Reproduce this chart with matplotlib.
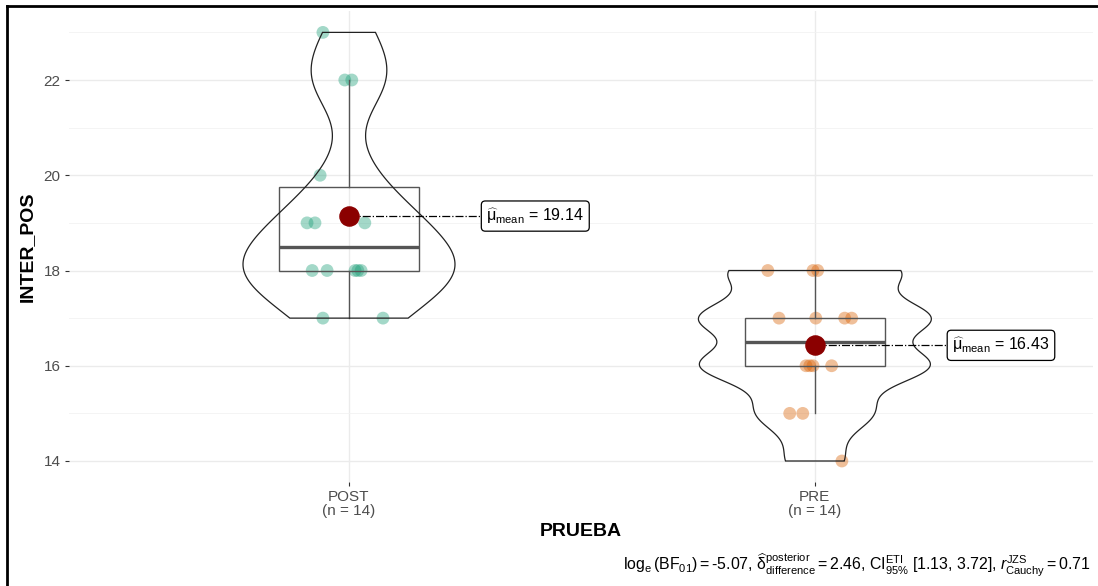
import numpy as np
import matplotlib
matplotlib.use("Agg")
import matplotlib.pyplot as plt
from matplotlib import cbook, mlab
from matplotlib.lines import Line2D

plt.rcParams['font.family'] = ['Liberation Sans', 'DejaVu Sans']
plt.rcParams['mathtext.fontset'] = 'custom'
plt.rcParams['mathtext.rm'] = 'Liberation Sans'
plt.rcParams['mathtext.it'] = 'Liberation Sans:italic'
plt.rcParams['mathtext.bf'] = 'Liberation Sans:bold'

# data (n = 14 per group)
groups = ['POST', 'PRE']
post = [23, 22, 22, 20, 19, 19, 19, 18, 18, 18, 18, 18, 17, 17]
pre = [18, 18, 18, 17, 17, 17, 17, 16, 16, 16, 16, 15, 15, 14]
# horizontal jitter of each point (same order as the values)
post_jitter = [-0.056, -0.009, 0.006, -0.062, -0.090, -0.073, 0.034,
               -0.079, -0.047, 0.013, 0.019, 0.026, -0.056, 0.073]
pre_jitter = [-0.101, -0.004, 0.006, -0.077, 0.002, 0.064, 0.079,
              -0.019, -0.011, -0.004, 0.036, -0.054, -0.026, 0.058]
caption = (r'$\log_{\mathrm{e}}(\mathrm{BF}_{01}) = $-5.07, '
           r'$\widehat{\mathrm{\delta}}_{\mathrm{difference}}^{\mathrm{posterior}} = $2.46, '
           r'$\mathrm{CI}_{95\%}^{\mathrm{ETI}}$ [1.13, 3.72], '
           r'$r_{\mathrm{Cauchy}}^{\mathrm{JZS}} = $0.71')

data = [post, pre]
jitters = [post_jitter, pre_jitter]
colors = ['#1B9E77', '#D95F02']
positions = [1, 2]


def nrd0_kde(x, coords):
    # gaussian kde with R's bw.nrd0 bandwidth, like ggplot's violins
    x = np.asarray(x, float)
    q1, q3 = np.percentile(x, [25, 75])
    sd = x.std(ddof=1)
    bw = 0.9 * min(sd, (q3 - q1) / 1.34) * len(x) ** -0.2
    return mlab.GaussianKDE(x, bw_method=bw / sd).evaluate(coords)


fig = plt.figure(figsize=(10.98, 5.86), dpi=100)
ax = fig.add_axes([69 / 1098, 1 - 482 / 586, (1093 - 69) / 1098, (482 - 11) / 586])

# jittered points
for pos, vals, jit, col in zip(positions, data, jitters, colors):
    ax.scatter(pos + np.array(jit), vals, s=85, color=col, alpha=0.4,
               edgecolors='none', zorder=3)

# boxplots
ax.boxplot(data, positions=positions, widths=0.3, showfliers=False,
           showcaps=False, patch_artist=True,
           boxprops=dict(facecolor='none', edgecolor='#555555', lw=1.0),
           whiskerprops=dict(color='#555555', lw=1.0),
           medianprops=dict(color='#555555', lw=2.4), zorder=4)

# violins (area scaled, max full width 0.5)
stats = cbook.violin_stats(data, nrd0_kde, points=512)
dmax = max(s['vals'].max() for s in stats)
for pos, s in zip(positions, stats):
    half = s['vals'] / dmax * 0.25
    xs = np.concatenate([pos - half, (pos + half)[::-1]])
    ys = np.concatenate([s['coords'], s['coords'][::-1]])
    ax.fill(xs, ys, facecolor='none', edgecolor='#222222', lw=0.9, zorder=5)

# means with labels
for pos, vals in zip(positions, data):
    m = np.mean(vals)
    ax.plot([pos, pos + 0.283], [m, m], ls='-.', color='black', lw=0.9, zorder=6)
    ax.scatter([pos], [m], s=190, color='#8B0000', zorder=7)
    ax.text(pos + 0.295, m, r'$\widehat{\mathrm{\mu}}_{\mathrm{mean}}$' + f' = {m:.2f}',
            ha='left', va='center', fontsize=11.5, color='black', zorder=8,
            bbox=dict(boxstyle='round,pad=0.32,rounding_size=0.25',
                      facecolor='white', edgecolor='black', lw=0.9))

ax.set_xlim(0.399, 2.597)
ax.set_ylim(13.559, 23.449)
ax.set_yticks([14, 16, 18, 20, 22])
ax.set_yticks([15, 17, 19, 21, 23], minor=True)
ax.set_xticks(positions)
ax.set_xticklabels([f'{g}\n(n = {len(v)})' for g, v in zip(groups, data)])
for t in ax.get_xticklabels():
    t.set_linespacing(0.95)

ax.grid(True, which='major', color='#EBEBEB', lw=1.0, zorder=0)
ax.grid(True, which='minor', axis='y', color='#F2F2F2', lw=0.6, zorder=0)
ax.set_axisbelow(True)
for sp in ax.spines.values():
    sp.set_visible(False)
ax.tick_params(which='major', length=3, width=0.8, color='#333333',
               labelcolor='#4D4D4D', labelsize=11, pad=3)
ax.tick_params(which='minor', length=0)

ax.set_xlabel('PRUEBA', fontsize=14, fontweight='bold', labelpad=4)
ax.set_ylabel('INTER_POS', fontsize=14, fontweight='bold', labelpad=6)

fig.text(1090 / 1098, 1 - 565 / 586, caption, ha='right', va='center', fontsize=11.4)

# frame around the picture (left and top edges)
fig.add_artist(Line2D([7 / 1098, 7 / 1098], [0, 1 - 6 / 586], color='black', lw=2))
fig.add_artist(Line2D([7 / 1098, 1], [1 - 6 / 586, 1 - 6 / 586], color='black', lw=2))

fig.savefig('out.png', dpi=100)
